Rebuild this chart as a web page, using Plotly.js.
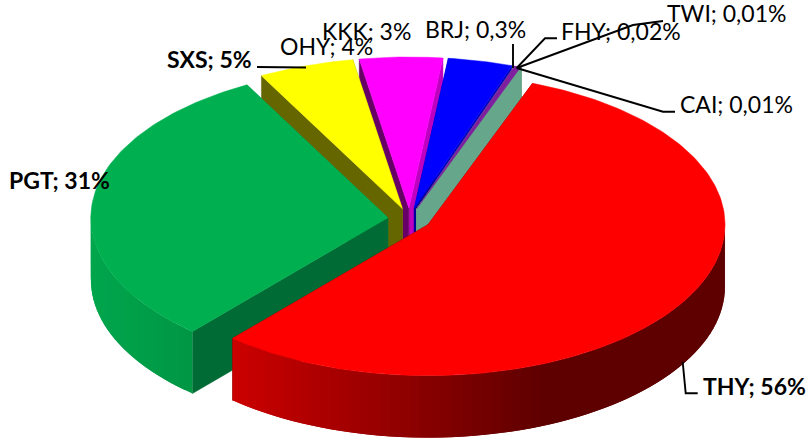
<!DOCTYPE html>
<html><head><meta charset="utf-8">
<script src="https://cdn.plot.ly/plotly-3.0.1.min.js"></script>
<style>html,body{margin:0;padding:0;background:#fff}#c{width:808px;height:439px}</style>
</head><body><div id="c"></div>
<script>
var categories = ['THY','PGT','SXS','OHY','KKK','BRJ','FHY','TWI','CAI'];
var shares = [55.7,30.7,5.2,4.5,3.5,0.35,0.02,0.01,0.01];
var shareLabels = ['56%','31%','5%','4%','3%','0,3%','0,02%','0,01%','0,01%'];
var topColors = ['#FF0000','#00B050','#FFFF00','#FF00FF','#0000FF','#7F1F9F','#7F1F9F','#66A68B','#66A68B'];
var startWall = ['#7A0000','#006B35','#666600','#660066','#000099','#66A68B','#66A68B','#66A68B','#66A68B'];
var endWall = ['#600000','#009A46','#999900','#C000C0','#0000C0','#66A68B','#66A68B','#66A68B','#66A68B'];
var rimColors = ['#600000','#009A46','#999900','#990099','#000099','#66A68B','#66A68B','#66A68B','#66A68B'];

// projection of the tilted pie
var P = {cx:409.4, cy:219, a:297, b:151, h:62, ex:21.7, ey:11, start:20.6};
var total = shares.reduce(function(s,v){return s+v;},0);
var traces = [];
function rad(d){return d*Math.PI/180;}
function poly(xs,ys,color,lw){
  traces.push({type:'scatter',mode:'lines',x:xs.concat([xs[0]]),y:ys.concat([ys[0]]),fill:'toself',fillcolor:color,
    line:{color:color,width:lw===undefined?0.5:lw},hoverinfo:'skip',showlegend:false});
}
function mix(c1,c2,t){t=Math.max(0,Math.min(1,t));
  return 'rgb('+[0,1,2].map(function(i){return Math.round(c1[i]+(c2[i]-c1[i])*t);}).join(',')+')';}
var gradients = {
  0:{from:[204,0,0],to:[95,0,0],x0:232,x1:540},
  1:{from:[0,166,76],to:[0,150,68],x0:90,x1:195}
};
var slices = [], acc = P.start;
shares.forEach(function(v,i){
  var sweep = v/total*360;
  slices.push({i:i,a0:acc,a1:acc+sweep}); acc += sweep;
});
var expl = (slices[5].a0+slices[8].a1)/2;
function sliceGeom(s){
  var mid = s.i>=5 ? expl : (s.a0+s.a1)/2;
  return {ax:P.cx+P.ex*Math.sin(rad(mid)), ay:P.cy-P.ey*Math.cos(rad(mid))};
}
function pt(g,t){return [g.ax+P.a*Math.sin(rad(t)), g.ay-P.b*Math.cos(rad(t))];}
function drawSlice(s){
  var g = sliceGeom(s), i = s.i, p0 = pt(g,s.a0), p1 = pt(g,s.a1);
  // walls along the two straight cuts
  poly([p1[0],g.ax,g.ax,p1[0]],[p1[1],g.ay,g.ay+P.h,p1[1]+P.h],endWall[i]);
  poly([p0[0],g.ax,g.ax,p0[0]],[p0[1],g.ay,g.ay+P.h,p0[1]+P.h],startWall[i]);
  // outer rim, painted in overlapping strips for the shading
  var step = 2;
  var n = Math.max(1,Math.ceil((s.a1-s.a0)/step));
  var order=[]; for(var k=0;k<n;k++) order.push(k);
  order.forEach(function(k){
    var t0=s.a0+(s.a1-s.a0)*k/n, t1=s.a0+(s.a1-s.a0)*Math.min(n,k+2)/n, tm=s.a0+(s.a1-s.a0)*(k+0.5)/n;
    if(Math.cos(rad(tm))>0.05) return;
    var xs=[],ys=[],j,q,m=8;
    for(j=0;j<=m;j++){q=pt(g,t0+(t1-t0)*j/m);xs.push(q[0]);ys.push(q[1]);}
    for(j=m;j>=0;j--){q=pt(g,t0+(t1-t0)*j/m);xs.push(q[0]);ys.push(q[1]+P.h);}
    var col=rimColors[i], G=gradients[i];
    if(G) col=mix(G.from,G.to,(pt(g,tm)[0]-G.x0)/(G.x1-G.x0));
    poly(xs,ys,col,0);
  });
  // top face
  var xs=[g.ax], ys=[g.ay], m=Math.max(2,Math.ceil((s.a1-s.a0)/1));
  for(var j=0;j<=m;j++){var q=pt(g,s.a0+(s.a1-s.a0)*j/m); xs.push(q[0]); ys.push(q[1]);}
  poly(xs,ys,topColors[i]);
}
// painter's order
[3,4,8,7,6,5,2,1,0].forEach(function(i){drawSlice(slices[i]);});

// leader lines
var leaders = [
 [[257,306],[67,67.5]],
 [[513,513],[44,68]],
 [[516.7,545,557],[68,38.3,38.3]],
 [[516.7,633,663],[68,25,21]],
 [[516.7,663,675],[68,111.7,111.7]],
 [[682.7,685.7,697.7],[362,393.3,393.3]]
];
leaders.forEach(function(l){
  traces.push({type:'scatter',mode:'lines',x:l[0],y:l[1],line:{color:'#000',width:1.9},hoverinfo:'skip',showlegend:false});
});
// label anchors, left edge and vertical middle
var labelX = [702,8,166,279,321,424,560,666,679];
var labelY = [386,180,59,46,31,29,31,13,104];
var bold = [true,true,true,false,false,false,false,false,false];
var annotations = categories.map(function(c,i){
  var txt = c+'; '+shareLabels[i];
  return {x:labelX[i],y:labelY[i],xref:'x',yref:'y',xanchor:'left',yanchor:'middle',showarrow:false,
    text:bold[i]?'<b>'+txt+'</b>':txt,borderpad:0,
    font:{family:'Lato, Carlito, sans-serif',size:23,color:'#000'}};
});
Plotly.newPlot('c',traces,{
  width:808,height:439,margin:{l:0,r:0,t:0,b:0},paper_bgcolor:'#fff',plot_bgcolor:'#fff',showlegend:false,
  xaxis:{range:[0,808],visible:false,fixedrange:true},
  yaxis:{range:[439,0],visible:false,fixedrange:true},
  annotations:annotations
},{displayModeBar:false,staticPlot:true});
</script></body></html>
